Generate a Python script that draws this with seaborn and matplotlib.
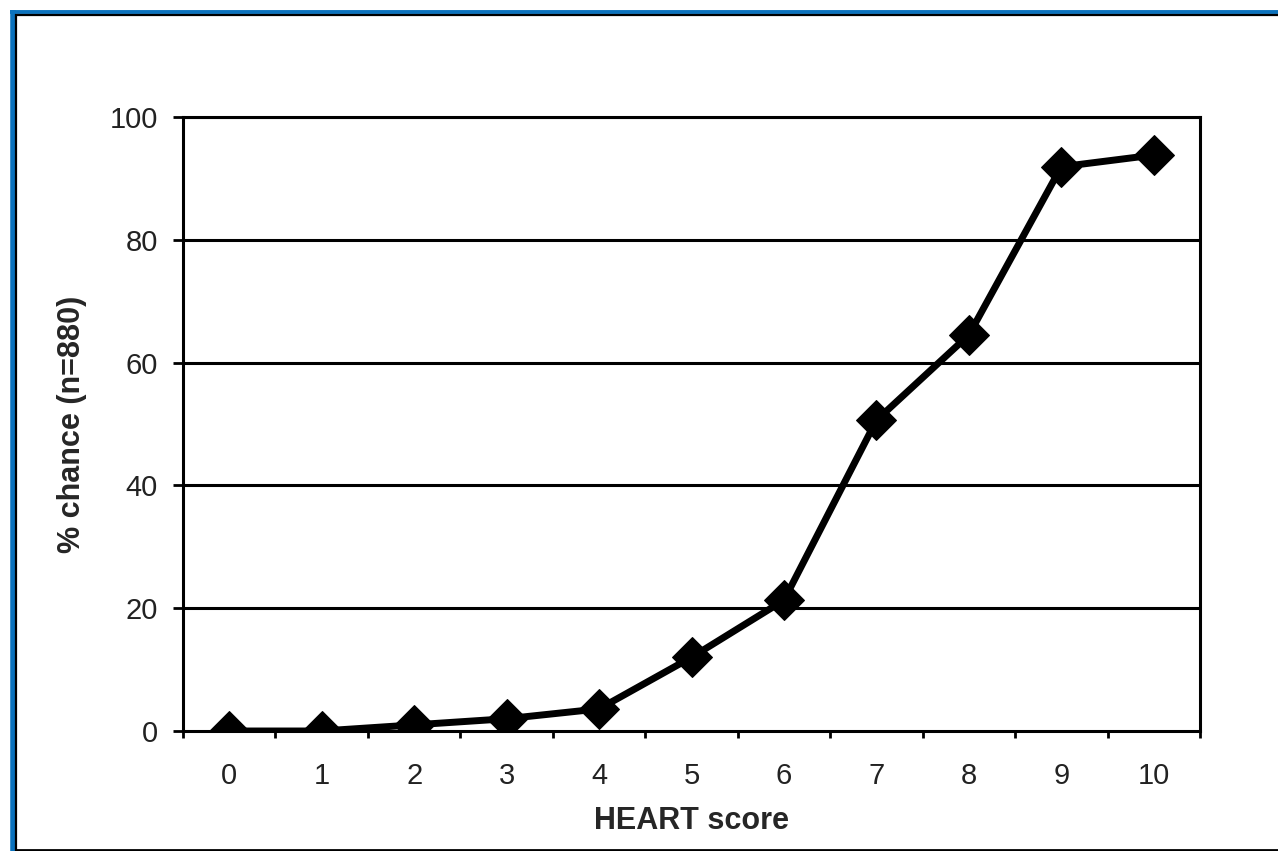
import numpy as np
import pandas as pd
import matplotlib
matplotlib.use('Agg')
import matplotlib.pyplot as plt
from matplotlib.lines import Line2D
from matplotlib.ticker import FixedLocator
import seaborn as sns

# HEART score vs % chance
scores = [0, 1, 2, 3, 4, 5, 6, 7, 8, 9, 10]
chance = [0.0, 0.0, 1.0, 2.0, 3.6, 12.0, 21.3, 50.6, 64.5, 91.9, 93.8]
y_ticks = [0, 20, 40, 60, 80, 100]

df = pd.DataFrame({'score': scores, 'chance': chance})

sns.set_style('white')
plt.rcParams['font.family'] = ['Liberation Sans', 'DejaVu Sans']

fig = plt.figure(figsize=(12.78, 8.51), dpi=100)
ax = fig.add_axes([183 / 1278, 1 - 731 / 851, (1200 - 183) / 1278, (731 - 117) / 851])

sns.lineplot(data=df, x='score', y='chance', ax=ax, color='black', lw=5,
             marker='D', markersize=20, markeredgecolor='black', markerfacecolor='black')

ax.set_xlim(-0.5, 10.5)
ax.set_ylim(0, 100)

# major ticks on categories (no marks), minor tick marks between them
ax.set_xticks(scores)
ax.xaxis.set_minor_locator(FixedLocator(np.arange(-0.5, 11, 1)))
ax.tick_params(axis='x', which='major', length=0, pad=22, labelsize=21, colors='#222222')
ax.tick_params(axis='x', which='minor', bottom=True, length=5, width=2, color='black')
ax.set_yticks(y_ticks)
ax.tick_params(axis='y', which='major', left=True, length=7, width=2, color='black',
               pad=11, labelsize=21, labelcolor='#222222')

for y in y_ticks[1:]:
    ax.axhline(y, color='black', lw=2.2, zorder=1)
for s in ax.spines.values():
    s.set_visible(True)
    s.set_color('black')
    s.set_linewidth(2.2)

ax.set_xlabel('HEART score', fontsize=22, fontweight='bold', labelpad=12)
ax.set_ylabel('% chance (n=880)', fontsize=22, fontweight='bold', labelpad=16)

# frame around the figure
H = 851.0
W = 1278.0
frame = [
    ([12.5 / W, 12.5 / W], [0, 1 - 10 / H], '#0b72bd', 4),
    ([10 / W, 1], [1 - 11.5 / H, 1 - 11.5 / H], '#0b72bd', 2.8),
    ([16 / W, 16 / W], [0, 1 - 14 / H], 'black', 1.6),
    ([15 / W, 1], [1 - 15 / H, 1 - 15 / H], 'black', 1.6),
    ([15 / W, 1], [1.5 / H, 1.5 / H], 'black', 2),
]
for xs, ys, c, w in frame:
    fig.add_artist(Line2D(xs, ys, color=c, lw=w, solid_capstyle='butt',
                          transform=fig.transFigure))

fig.savefig('out.png', dpi=100)
